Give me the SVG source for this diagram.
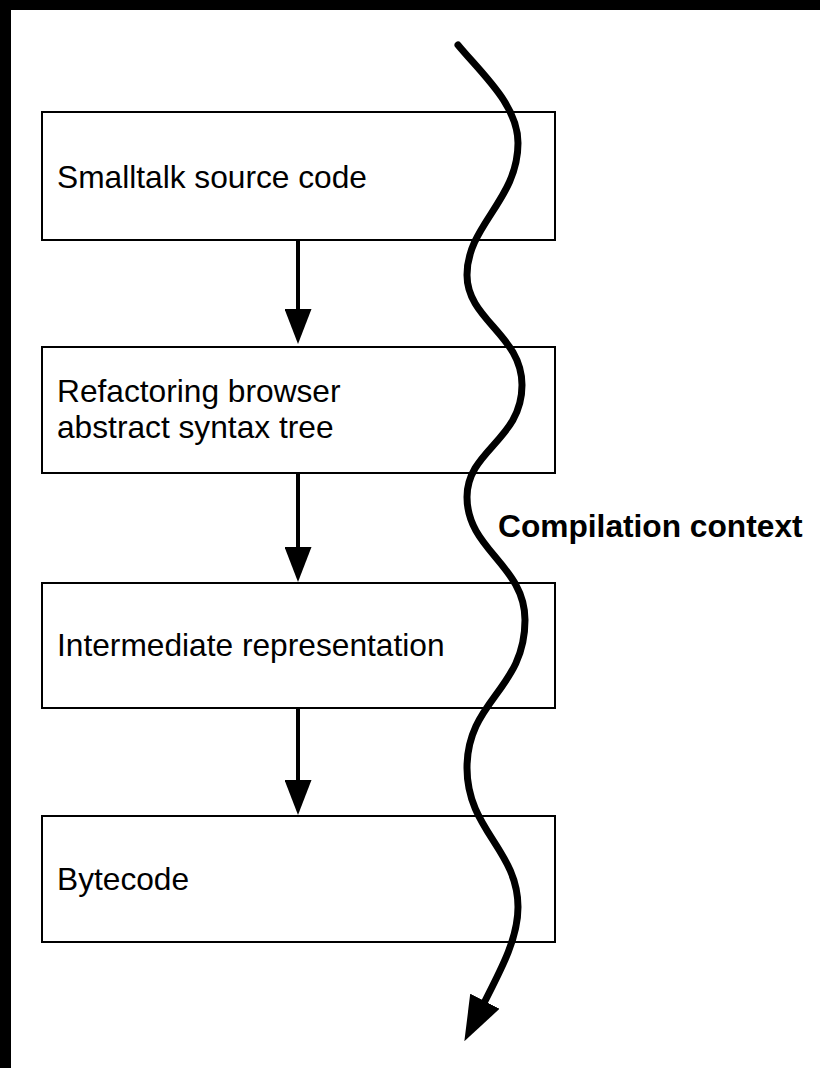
<svg xmlns="http://www.w3.org/2000/svg" width="820" height="1068" viewBox="0 0 820 1068">
  <style>
    .box rect { fill: #ffffff; stroke: #000000; stroke-width: 2; }
    .box text { font-family: "Liberation Sans", Arial, Helvetica, sans-serif; font-size: 31.7px; fill: #000000; }
    .flow { stroke: #000000; stroke-width: 4; fill: none; }
    .context { stroke: #000000; stroke-width: 7; fill: none; stroke-linecap: round; }
    .label { font-family: "Liberation Sans", Arial, Helvetica, sans-serif; font-size: 31.7px; font-weight: bold; fill: #000000; }
  </style>
  <defs>
    <marker id="head" markerUnits="userSpaceOnUse" viewBox="0 0 35 27" markerWidth="35" markerHeight="27" refX="1" refY="13.5" orient="auto">
      <path d="M0,0 L35,13.5 L0,27 Z" fill="#000000"/>
    </marker>
    <marker id="bighead" markerUnits="userSpaceOnUse" viewBox="0 0 45 33" markerWidth="45" markerHeight="33" refX="2" refY="16.5" orient="auto">
      <path d="M0,0 L45,16.5 L0,33 Z" fill="#000000"/>
    </marker>
  </defs>

  <!-- page background with dark frame strips -->
  <rect x="0" y="0" width="820" height="1068" fill="#ffffff"/>
  <rect x="0" y="0" width="11" height="1068" fill="#000000"/>
  <rect x="0" y="0" width="820" height="10" fill="#000000"/>

  <!-- pipeline stages -->
  <g id="source" class="box">
    <rect x="42" y="112" width="513" height="128"/>
    <text x="57" y="188">Smalltalk source code</text>
  </g>
  <g id="ast" class="box">
    <rect x="42" y="347" width="513" height="126"/>
    <text x="57" y="402">Refactoring browser</text>
    <text x="57" y="438">abstract syntax tree</text>
  </g>
  <g id="ir" class="box">
    <rect x="42" y="583" width="513" height="125"/>
    <text x="57" y="656">Intermediate representation</text>
  </g>
  <g id="bytecode" class="box">
    <rect x="42" y="816" width="513" height="126"/>
    <text x="57" y="890">Bytecode</text>
  </g>

  <!-- stage-to-stage connectors -->
  <g id="connectors">
    <line class="flow" x1="298" y1="240" x2="298" y2="310" marker-end="url(#head)"/>
    <line class="flow" x1="298" y1="473" x2="298" y2="548" marker-end="url(#head)"/>
    <line class="flow" x1="298" y1="708" x2="298" y2="781" marker-end="url(#head)"/>
  </g>

  <!-- compilation context thread running through all stages -->
  <g id="context">
    <path class="context" marker-end="url(#bighead)" d="M458,45 C482,74 518,105 518,143 C518,200 467,225 467,275 C467,320 522,335 522,385 C522,440 467,450 467,497 C467,550 525,565 525,620 C525,690 467,700 467,768 C467,830 518,850 518,907 C518,937 503,966 484,1003"/>
    <text class="label" x="498" y="537">Compilation context</text>
  </g>
</svg>
